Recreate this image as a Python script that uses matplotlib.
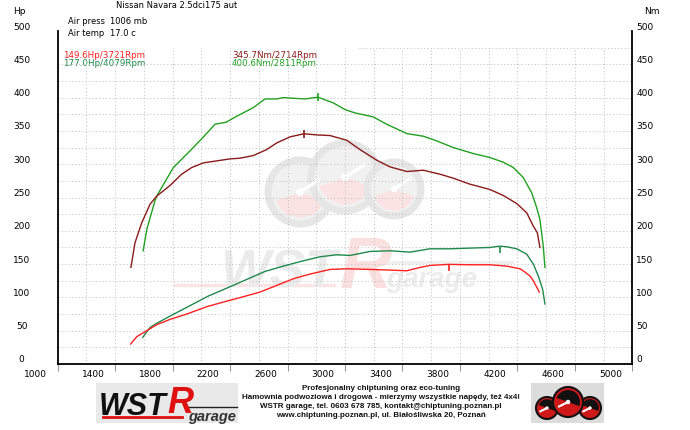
import matplotlib

matplotlib.use("Agg")
import matplotlib.pyplot as plt
import matplotlib.transforms as mtransforms
from matplotlib.patches import Circle, Rectangle, Wedge
import numpy as np

plt.rcParams["font.family"] = ["DejaVu Sans"]

# --- chart data -------------------------------------------------------------
title = "Nissan Navara 2.5dci175 aut"
air_press = "1006 mb"
air_temp = "17.0 c"

# torque, tuned (green)
tq_tuned_rpm = [1595, 1620, 1677, 1689, 1805, 1921, 2002, 2095, 2172, 2246, 2362,
                2443, 2525, 2571, 2640, 2722, 2811, 2919, 3000, 3070, 3197, 3290,
                3430, 3545, 3627, 3754, 3893, 4009, 4102, 4172, 4241, 4300, 4334,
                4357, 4380, 4392]
tq_tuned_nm = [170, 202, 245, 252, 295, 320, 338, 360, 363, 372, 385, 398, 398,
               400, 399, 398, 400.6, 392, 382, 377, 371, 360, 346, 342, 336, 325,
               316, 310, 303, 295, 280, 257, 235, 217, 177, 145]

# torque, stock (dark red)
tq_stock_rpm = [1510, 1538, 1585, 1643, 1689, 1782, 1863, 1933, 2014, 2107, 2200,
                2269, 2362, 2455, 2525, 2617, 2714, 2803, 2896, 3012, 3104, 3221,
                3313, 3430, 3545, 3661, 3754, 3870, 4009, 4102, 4195, 4265, 4311,
                4339, 4357]
tq_stock_nm = [145, 182, 212, 240, 252, 268, 285, 295, 302, 305, 308, 309, 313,
               322, 332, 341, 345.7, 344, 343, 336, 322, 306, 296, 289, 291, 285,
               279, 270, 262, 253, 241, 227, 207, 197, 175]

# power, tuned (green)
hp_tuned_rpm = [1592, 1643, 1689, 1782, 1898, 2048, 2200, 2316, 2443, 2571, 2710,
                2826, 2942, 3035, 3174, 3313, 3453, 3592, 3731, 3870, 4009, 4079,
                4126, 4195, 4265, 4311, 4346, 4376, 4392]
hp_tuned_hp = [40, 55, 61, 72, 85, 102, 116, 127, 139, 147, 155, 161, 164, 163,
               169, 170, 168, 173, 173, 174, 175, 177, 176, 173, 165, 150, 132,
               112, 90]

# power, stock (red)
hp_stock_rpm = [1508, 1550, 1620, 1689, 1782, 1898, 2037, 2153, 2292, 2408, 2525,
                2640, 2756, 2896, 3012, 3174, 3313, 3430, 3522, 3592, 3721, 3870,
                4009, 4126, 4218, 4253, 4288, 4311, 4323, 4353]
hp_stock_hp = [30, 41, 50, 59, 67, 75, 86, 93, 101, 108, 118, 128, 135, 142, 143,
               142, 141, 140, 145, 148, 149.6, 149, 149, 147, 143, 138, 132, 125,
               120, 108]

# peaks
peak_hp_stock = (3721, 149.6)
peak_hp_tuned = (4079, 177.0)
peak_tq_stock = (2714, 345.7)
peak_tq_tuned = (2811, 400.6)

x_ticks = [1000, 1400, 1800, 2200, 2600, 3000, 3400, 3800, 4200, 4600, 5000]
y_ticks = [0, 50, 100, 150, 200, 250, 300, 350, 400, 450, 500]

footer_lines = [
    "Profesjonalny chiptuning oraz eco-tuning",
    "Hamownia podwoziowa i drogowa - mierzymy wszystkie napędy, też 4x4!",
    "WSTR garage, tel. 0603 678 785, kontakt@chiptuning.poznan.pl",
    "www.chiptuning.poznan.pl, ul. Białośliwska 20, Poznań",
]

# --- colours ----------------------------------------------------------------
C_HP_STOCK = "#ff2020"
C_HP_TUNED = "#1f8a4c"
C_TQ_STOCK = "#8b1a1a"
C_TQ_TUNED = "#22a022"
GRID = "#bdbdbd"
NARROW = ["Liberation Sans Narrow", "Liberation Sans", "DejaVu Sans"]

fig = plt.figure(figsize=(6.9, 4.31), dpi=100)

# background layer in pixel coordinates (logos, watermark, free text)
bg = fig.add_axes([0, 0, 1, 1], zorder=0)
bg.set_xlim(0, 690)
bg.set_ylim(431, 0)
bg.axis("off")

# watermark gauges
for cx, cy, r in [(300, 193, 32), (345, 178, 34), (394, 190, 27)]:
    bg.add_patch(Circle((cx, cy), r, facecolor="#f1f1f1", edgecolor="#e6e6e6", lw=5))
    bg.add_patch(Wedge((cx, cy), r * 0.8, 20, 160, facecolor="#fbe3e3", edgecolor="none"))
    bg.plot([cx, cx + r * 0.55], [cy, cy - r * 0.35], color="white", lw=2.5)
    bg.add_patch(Circle((cx, cy), r * 0.12, facecolor="white", edgecolor="none"))

# watermark text
bg.text(220, 288, "WST", fontsize=38, fontweight="bold", fontstyle="italic",
        family=NARROW, color="#ebebeb", ha="left", va="baseline")
bg.text(340, 288, "R", fontsize=52, fontweight="bold", fontstyle="italic",
        family=NARROW, color="#fbe0e0", ha="left", va="baseline")
bg.text(386, 287, "garage", fontsize=20, fontweight="bold", fontstyle="italic",
        family=NARROW, color="#ececec", ha="left", va="baseline")
bg.plot([175, 334], [286, 286], color="#fbe4e4", lw=2.5)
bg.plot([378, 512], [263, 263], color="#f0f0f0", lw=2.5)

# --- main axes --------------------------------------------------------------
ax = fig.add_axes([57.7 / 690, 66 / 431, 574.6 / 690, 333 / 431], zorder=1)
ax.patch.set_alpha(0)
ax.set_xlim(1000, 5000)
ax.set_ylim(0, 500)

# dotted grid
grid_rpm = np.arange(1200, 5000, 200)
grid_val = np.arange(25, 475, 25)
dot = (0, (1, 2.5))
ax.vlines(grid_rpm, 0, 475, colors=GRID, linestyles=dot, linewidth=0.7, zorder=1)
ax.hlines(grid_val, 1000, 5000, colors=GRID, linestyles=dot, linewidth=0.7, zorder=1)
ax.hlines(475, 3100, 5000, colors=GRID, linestyles=dot, linewidth=0.7, zorder=1)

# curves
ax.plot(tq_tuned_rpm, tq_tuned_nm, color=C_TQ_TUNED, lw=1.0, zorder=3)
ax.plot(tq_stock_rpm, tq_stock_nm, color=C_TQ_STOCK, lw=1.0, zorder=3)
ax.plot(hp_tuned_rpm, hp_tuned_hp, color=C_HP_TUNED, lw=1.0, zorder=3)
ax.plot(hp_stock_rpm, hp_stock_hp, color=C_HP_STOCK, lw=1.0, zorder=3)

# peak markers
below = mtransforms.offset_copy(ax.transData, fig=fig, x=0, y=-4, units="dots")
ax.plot(*peak_tq_tuned, marker="|", ms=6, mew=1.2, color=C_TQ_TUNED, zorder=4)
ax.plot(*peak_tq_stock, marker="|", ms=6, mew=1.2, color=C_TQ_STOCK, zorder=4)
ax.plot(*peak_hp_tuned, marker="|", ms=5, mew=1.2, color=C_HP_TUNED, zorder=4,
        transform=below)
ax.plot(*peak_hp_stock, marker="|", ms=5, mew=1.2, color=C_HP_STOCK, zorder=4,
        transform=below)

# spines and ticks
ax.spines["top"].set_visible(False)
for side in ["left", "right", "bottom"]:
    ax.spines[side].set_color("black")
    ax.spines[side].set_linewidth(1.3)
ax.set_xticks(x_ticks)
ax.set_xticklabels([])
ax.tick_params(axis="x", length=5, width=0.8, color="#999999", direction="out")
ax.set_yticks([])

# tick labels sit a little off the ticks, as in the dyno printout
xlab = mtransforms.offset_copy(ax.transData, fig=fig, x=-22, y=-10, units="dots")
for r in x_ticks:
    ax.text(r, 0, str(r), transform=xlab, ha="center", va="center", fontsize=6.5,
            clip_on=False)
ylab_l = mtransforms.offset_copy(ax.transData, fig=fig, x=-36, y=5, units="dots")
ylab_r = mtransforms.offset_copy(ax.transData, fig=fig, x=4, y=5, units="dots")
for v in y_ticks:
    ax.text(1000, v, str(v), transform=ylab_l, ha="center", va="center",
            fontsize=6.5, clip_on=False)
    ax.text(5000, v, str(v), transform=ylab_r, ha="left", va="center",
            fontsize=6.5, clip_on=False)

# --- header text ------------------------------------------------------------
bg.text(19, 11, "Hp", fontsize=6.5, ha="center", va="center")
bg.text(652, 12, "Nm", fontsize=6.5, ha="center", va="center")
bg.text(177, 6, title, fontsize=6, ha="center", va="center")
bg.text(68, 21, "Air press", fontsize=6, ha="left", va="center")
bg.text(110, 21, air_press, fontsize=6, ha="left", va="center")
bg.text(68, 33, "Air temp", fontsize=6, ha="left", va="center")
bg.text(110, 33, air_temp, fontsize=6, ha="left", va="center")

bg.text(63, 55, f"{peak_hp_stock[1]:.1f}Hp/{peak_hp_stock[0]}Rpm", fontsize=6.3,
        color=C_HP_STOCK, ha="left", va="center")
bg.text(63, 63, f"{peak_hp_tuned[1]:.1f}Hp/{peak_hp_tuned[0]}Rpm", fontsize=6.3,
        color=C_HP_TUNED, ha="left", va="center")
bg.text(232, 55, f"{peak_tq_stock[1]:.1f}Nm/{peak_tq_stock[0]}Rpm", fontsize=6.3,
        color=C_TQ_STOCK, ha="left", va="center")
bg.text(232, 63, f"{peak_tq_tuned[1]:.1f}Nm/{peak_tq_tuned[0]}Rpm", fontsize=6.3,
        color=C_TQ_TUNED, ha="left", va="center")

# --- footer -----------------------------------------------------------------
for i, line in enumerate(footer_lines):
    bg.text(381, 389 + i * 9, line, fontsize=5.8, fontweight="bold", family=NARROW,
            color="#111111", ha="center", va="center")

# left logo
bg.add_patch(Rectangle((96, 384), 142, 40, facecolor="#e9e9e9", edgecolor="none"))
bg.text(99, 415, "WST", fontsize=22, fontweight="bold", fontstyle="italic",
        family=NARROW, color="#111111", ha="left", va="baseline")
bg.text(167, 413, "R", fontsize=26, fontweight="bold", fontstyle="italic",
        family=NARROW, color="#e01010", ha="left", va="baseline")
bg.plot([103, 182], [418, 418], color="#e01010", lw=2)
bg.plot([186, 237], [408, 408], color="#222222", lw=1)
bg.text(188, 421, "garage", fontsize=10.5, fontweight="bold", fontstyle="italic",
        family=NARROW, color="#333333", ha="left", va="baseline")

# right logo
bg.add_patch(Rectangle((531, 384), 73, 40, facecolor="#dcdcdc", edgecolor="none"))
for cx, cy, r in [(547, 409, 11), (590, 409, 11), (568, 403, 15)]:
    bg.add_patch(Circle((cx, cy), r, facecolor="#d01818", edgecolor="#111111", lw=1.5))
    bg.add_patch(Wedge((cx, cy), r * 0.8, 200, 380, facecolor="#111111", edgecolor="none"))
    bg.plot([cx - r * 0.6, cx], [cy + r * 0.3, cy], color="white", lw=1.5)
    bg.add_patch(Circle((cx, cy), r * 0.15, facecolor="white", edgecolor="none"))

fig.savefig("out.png", dpi=100)
